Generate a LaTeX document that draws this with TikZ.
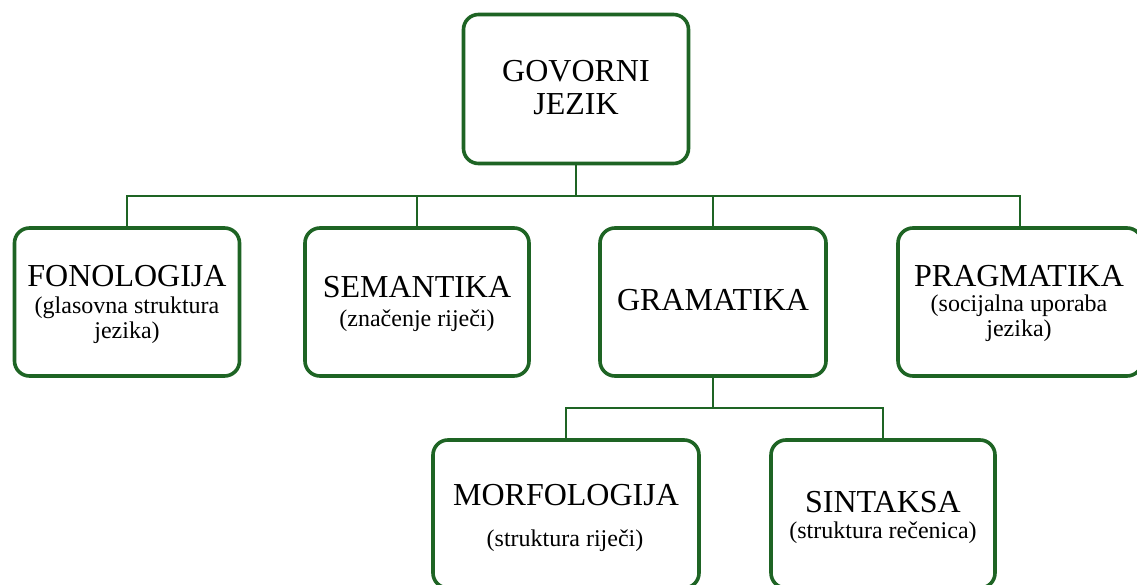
\documentclass[tikz,border=0pt]{standalone}
\usepackage{fontspec}
\setmainfont{Liberation Serif}
\definecolor{boxgreen}{RGB}{30,100,36}
\tikzset{
  box/.style={draw=boxgreen, line width=3.6pt, rounded corners=15pt, fill=white, inner sep=0pt},
  conn/.style={draw=boxgreen, line width=2.4pt},
  bigtxt/.style={anchor=base, inner sep=0pt, font=\fontsize{32}{34}\selectfont},
  smalltxt/.style={anchor=base, inner sep=0pt, font=\fontsize{24}{26}\selectfont}
}
\begin{document}
\begin{tikzpicture}[x=1pt,y=-1pt]
\useasboundingbox (0,0) rectangle (1137,585);
\fill[white] (0,0) rectangle (1137,585);
% boxes
\node[box, minimum width=225pt, minimum height=149pt] (gov) at (576,89) {};
\node[box, minimum width=225pt, minimum height=148pt] (fon) at (127,302) {};
\node[box, minimum width=224pt, minimum height=148pt] (sem) at (417,302) {};
\node[box, minimum width=226pt, minimum height=148pt] (gram) at (713,302) {};
\node[box, minimum width=244pt, minimum height=148pt] (prag) at (1020,302) {};
\node[box, minimum width=266pt, minimum height=148pt] (morf) at (566,514) {};
\node[box, minimum width=224pt, minimum height=148pt] (sint) at (883,514) {};
% connectors
\coordinate (bus) at (576,196);
\coordinate (bus2) at (713,408);
\draw[conn] (gov.south) -- (bus);
\draw[conn] (fon.north) |- (bus) -| (prag.north);
\draw[conn] (sem.north) -- (sem.north |- bus);
\draw[conn] (gram.north) -- (gram.north |- bus);
\draw[conn] (gram.south) -- (bus2);
\draw[conn] (morf.north) |- (bus2) -| (sint.north);
% texts
\node[bigtxt] (govA) at (576,82) {GOVORNI};
\node[bigtxt] (govB) at (576,115) {JEZIK};
\node[bigtxt] (fonA) at (127,287) {FONOLOGIJA};
\node[smalltxt] (fonB) at (127,313) {(glasovna struktura};
\node[smalltxt] (fonC) at (127,338) {jezika)};
\node[bigtxt] (semA) at (417,298) {SEMANTIKA};
\node[smalltxt] (semB) at (417,326) {(značenje riječi)};
\node[bigtxt] (gramA) at (713,310) {GRAMATIKA};
\node[bigtxt] (pragA) at (1019,287) {PRAGMATIKA};
\node[smalltxt] (pragB) at (1019,311) {(socijalna uporaba};
\node[smalltxt] (pragC) at (1019,336) {jezika)};
\node[bigtxt] (morfA) at (566,505) {MORFOLOGIJA};
\node[smalltxt] (morfB) at (565,546) {(struktura riječi)};
\node[bigtxt] (sintA) at (883,512) {SINTAKSA};
\node[smalltxt] (sintB) at (883,538) {(struktura rečenica)};
\end{tikzpicture}
\end{document}
